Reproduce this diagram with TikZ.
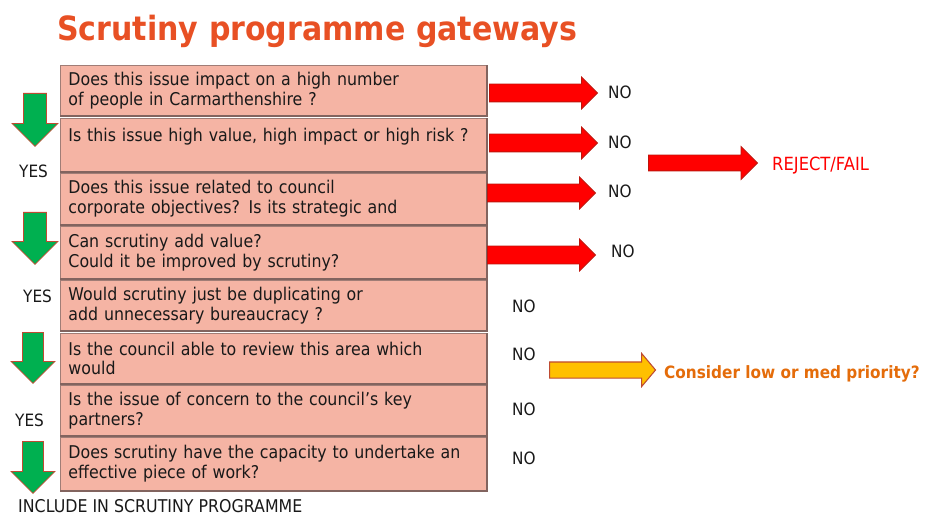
\documentclass[tikz,border=0pt]{standalone}
\usepackage{fontspec}
\setmainfont{DejaVu Sans}[FakeStretch=0.9]
\usetikzlibrary{shapes.arrows}

\definecolor{boxfill}{RGB}{245,180,164}
\definecolor{boxedge}{RGB}{160,125,118}
\definecolor{boxshade}{RGB}{130,100,95}
\definecolor{titleorange}{RGB}{232,80,36}
\definecolor{nored}{RGB}{255,0,0}
\definecolor{noredge}{RGB}{190,20,10}
\definecolor{yesgreen}{RGB}{0,176,80}
\definecolor{arrowedge}{RGB}{190,75,50}
\definecolor{medyellow}{RGB}{255,192,0}
\definecolor{medorange}{RGB}{228,108,10}
\definecolor{inktext}{RGB}{25,25,25}

\begin{document}
\begin{tikzpicture}[x=0.03cm, y=-0.03cm,
    question/.style={rectangle, draw=boxedge, fill=boxfill, line width=0.8pt, anchor=north west,
        minimum width=12.78cm, inner xsep=0.24cm, inner ysep=0pt, text width=12.3cm, align=left,
        text=inktext, font=\fontsize{15}{17}\selectfont},
    yesarrow/.style={single arrow, shape border rotate=270, anchor=tail, fill=yesgreen, draw=arrowedge,
        line width=0.7pt, single arrow head extend=0.345cm},
    noarrow/.style={single arrow, anchor=tail, fill=nored, draw=noredge, line width=0.7pt, inner sep=0.255cm,
        minimum height=3.24cm, single arrow head extend=0.21cm},
    answer/.style={anchor=base west, inner sep=0pt, text=inktext, font=\fontsize{14.5}{16}\selectfont}]
    \useasboundingbox (0,0) rectangle (933,515);

    \node[anchor=base west, inner sep=0pt, text=titleorange, font=\fontsize{28.5}{34}\selectfont\bfseries]
        (title) at (57,41) {Scrutiny programme gateways};

    \node[question, minimum height=1.5cm] (q1) at (60,65) {Does this issue impact on a high number\\of people in Carmarthenshire ?};
    \node[question, minimum height=1.59cm] (q2) at (60,118) {Is this issue high value, high impact or high risk ?\\\mbox{}};
    \node[question, minimum height=1.53cm] (q3) at (60,173) {Does this issue related to council\\corporate objectives? Is its strategic and};
    \node[question, minimum height=1.56cm] (q4) at (60,226) {Can scrutiny add value?\\Could it be improved by scrutiny?};
    \node[question, minimum height=1.5cm] (q5) at (60,280) {Would scrutiny just be duplicating or\\add unnecessary bureaucracy ?};
    \node[question, minimum height=1.5cm] (q6) at (60,333) {Is the council able to review this area which\\would};
    \node[question, minimum height=1.5cm] (q7) at (60,385) {Is the issue of concern to the council’s key\\partners?};
    \node[question, minimum height=1.59cm] (q8) at (60,437) {Does scrutiny have the capacity to undertake an\\effective piece of work?};
    \foreach \q in {q1,q2,q3,q4,q5,q6,q7,q8}
        \draw[boxshade, line width=1.6pt] (\q.south west) -- (\q.south east) -- (\q.north east);

    \node[yesarrow, inner sep=0.33cm, minimum height=1.59cm] (down1) at (35,93) {};
    \node[yesarrow, inner sep=0.33cm, minimum height=1.56cm] (down2) at (35,212) {};
    \node[yesarrow, inner sep=0.3cm, minimum height=1.53cm] (down3) at (33,332) {};
    \node[yesarrow, inner sep=0.3cm, minimum height=1.56cm] (down4) at (33,441) {};
    \node[answer] (yes1) at (19,178) {YES};
    \node[answer] (yes2) at (23,302) {YES};
    \node[answer] (yes3) at (15,426) {YES};
    \node[answer, font=\fontsize{15}{16}\selectfont] (include) at (18,512) {INCLUDE IN SCRUTINY PROGRAMME};

    \node[noarrow] (out1) at (489,93) {};
    \node[noarrow] (out2) at (489,143) {};
    \node[noarrow] (out3) at (487,193) {};
    \node[noarrow] (out4) at (487,255) {};
    \node[answer] (no1) at (608,99) {NO};
    \node[answer] (no2) at (608,149) {NO};
    \node[answer] (no3) at (608,198) {NO};
    \node[answer] (no4) at (611,258) {NO};
    \node[noarrow, inner sep=0.225cm, minimum height=3.27cm, single arrow head extend=0.255cm] (reject) at (648,163) {};
    \node[answer, text=nored, font=\fontsize{15.5}{17}\selectfont] (fail) at (772,171) {REJECT/FAIL};

    \node[answer] (no5) at (512,312) {NO};
    \node[answer] (no6) at (512,360) {NO};
    \node[answer] (no7) at (512,415) {NO};
    \node[answer] (no8) at (512,464) {NO};
    \node[single arrow, anchor=tail, fill=medyellow, draw=arrowedge, line width=0.9pt, inner sep=0.225cm,
        minimum height=3.18cm, single arrow head extend=0.255cm,
        single arrow tip angle=100] (medium) at (549,370) {};
    \node[answer, text=medorange, font=\fontsize{14.5}{16}\selectfont\bfseries] (priority) at (664,378) {Consider low or med priority?};
\end{tikzpicture}
\end{document}
